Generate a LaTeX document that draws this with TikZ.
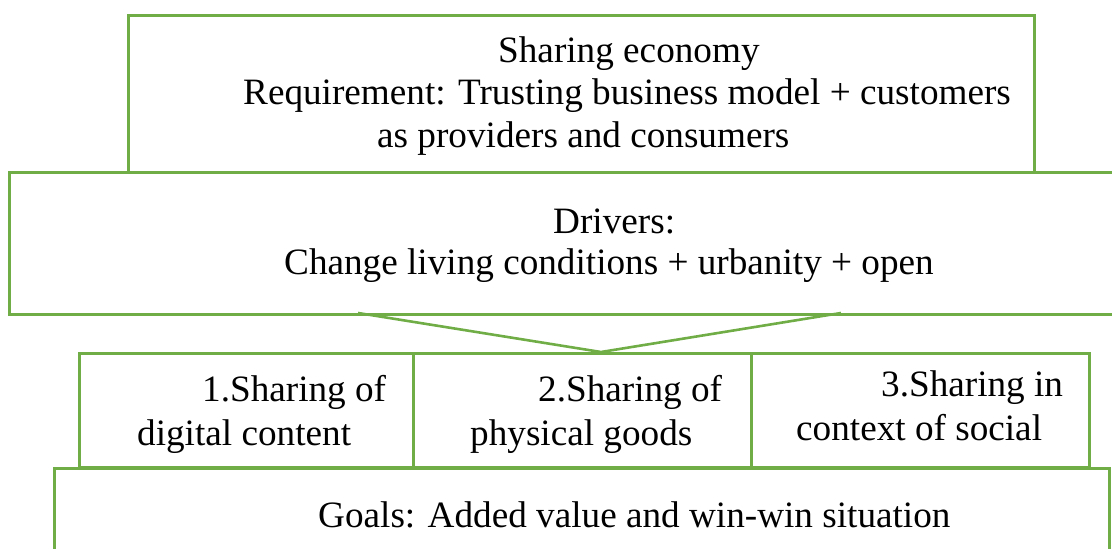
\documentclass[tikz,border=0pt]{standalone}
\usepackage{fontspec}
\setmainfont{Liberation Serif}
\begin{document}
\begin{tikzpicture}[x=1pt,y=-1pt,
  frame/.style={draw=boxgreen,line width=2.8pt,rectangle,inner sep=0pt,anchor=north west},
  label/.style={anchor=base west,inner sep=0pt,font=\fontsize{37.2}{43}\selectfont},
  link/.style={draw=boxgreen,line width=2.6pt,line join=miter}]
\definecolor{boxgreen}{RGB}{112,173,71}
\useasboundingbox (0,0) rectangle (1112,549);
\clip (0,0) rectangle (1112,549);

% frames
\node[frame,minimum width=906pt,minimum height=157pt] (top) at (127,14) {};
\node[frame,minimum width=1130pt,minimum height=142pt] (drivers) at (8,171) {};
\node[frame,minimum width=334pt,minimum height=114pt] (col1) at (78,352) {};
\node[frame,minimum width=338pt,minimum height=114pt] (col2) at (412,352) {};
\node[frame,minimum width=338pt,minimum height=114pt] (col3) at (750,352) {};
\node[frame,minimum width=1055pt,minimum height=120pt] (goals) at (53,467) {};

% funnel between the drivers frame and the three columns
\coordinate (fl) at (358,313);
\coordinate (fr) at (841,313);
\coordinate (fa) at (601,352);
\draw[link] (fl) -- (fa) -- (fr);

% texts
\node[label] (t1) at (498,62) {Sharing economy};
\node[label] (t2) at (243,104) {Requirement: Trusting business model + customers};
\node[label] (t3) at (377,147) {as providers and consumers};
\node[label] (d1) at (553,233) {Drivers:};
\node[label] (d2) at (284,274) {Change living conditions + urbanity + open};
\node[label] (a1) at (202,401) {1.Sharing of};
\node[label] (a2) at (137,445) {digital content};
\node[label] (b1) at (538,401) {2.Sharing of};
\node[label] (b2) at (470,445) {physical goods};
\node[label] (c1) at (881,396) {3.Sharing in};
\node[label] (c2) at (796,440) {context of social};
\node[label] (g1) at (318,527) {Goals: Added value and win-win situation};
\end{tikzpicture}
\end{document}
